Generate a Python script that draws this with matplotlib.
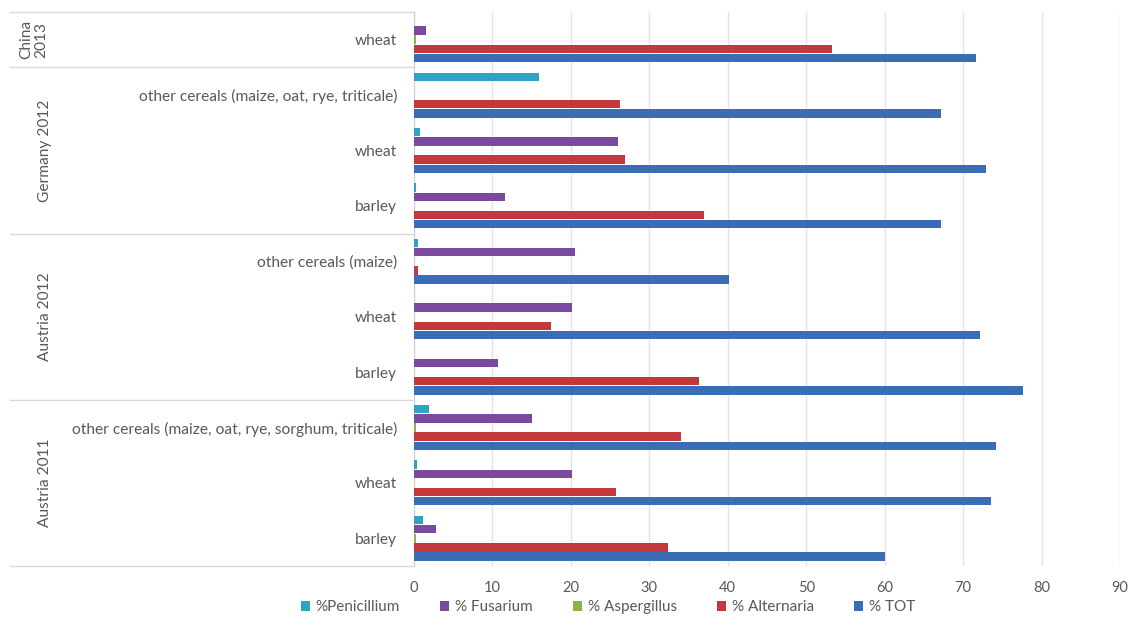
import matplotlib
matplotlib.use("Agg")
import matplotlib.pyplot as plt
import matplotlib.transforms as mtransforms
import numpy as np

plt.rcParams['font.family'] = ['Lato', 'DejaVu Sans']

# categories from bottom to top
categories = ["barley", "wheat", "other cereals (maize, oat, rye, sorghum, triticale)",
              "barley", "wheat", "other cereals (maize)",
              "barley", "wheat", "other cereals (maize, oat, rye, triticale)",
              "wheat"]
groups = ["Austria 2011", "Austria 2012", "Germany 2012", "China\n2013"]
group_bounds = [(-0.5, 2.5), (2.5, 5.5), (5.5, 8.5), (8.5, 9.5)]

penicillium = [1.1, 0.4, 1.9, 0.0, 0.0, 0.5, 0.3, 0.8, 15.9, 0.0]
fusarium    = [2.8, 20.1, 15.0, 10.7, 20.2, 20.5, 11.6, 26.0, 0.0, 1.5]
aspergillus = [0.2, 0.0, 0.2, 0.0, 0.0, 0.0, 0.0, 0.0, 0.0, 0.3]
alternaria  = [32.4, 25.8, 34.0, 36.3, 17.5, 0.5, 37.0, 26.9, 26.3, 53.3]
tot         = [60.0, 73.6, 74.2, 77.6, 72.1, 40.2, 67.2, 72.9, 67.2, 71.6]

series_names = ["%Penicillium", "% Fusarium", "% Aspergillus", "% Alternaria", "% TOT"]
series_vals = [penicillium, fusarium, aspergillus, alternaria, tot]
colors = ["#2FA3C2", "#7A4A9E", "#8DB441", "#C2383B", "#3A6DB5"]
offsets = [2, 1, 0, -1, -2]

fig = plt.figure(figsize=(11.34, 6.28), dpi=100)
ax = fig.add_axes([414/1134, 1-566/628, 706/1134, 554/628])

y = np.arange(len(categories))
h = 0.165
for name, vals, col, off in zip(series_names, series_vals, colors, offsets):
    ax.barh(y + off*h, vals, height=h*0.92, color=col, label=name, zorder=3)

ax.set_xlim(0, 90)
ax.set_ylim(-0.5, 9.5)
ax.set_xticks(np.arange(0, 91, 10))
ax.xaxis.grid(True, color="#E3E3E3", linewidth=1, zorder=0)
ax.set_yticks(y)
ax.set_yticklabels(categories, fontsize=11.2, color="#595959")
ax.tick_params(axis='y', length=0, pad=12)
ax.tick_params(axis='x', length=0, labelsize=10.5, labelcolor="#595959", pad=11)
for s in ["top", "right", "bottom"]:
    ax.spines[s].set_visible(False)
ax.spines["left"].set_color("#D0D0D0")

# group separators and labels
trans = mtransforms.blended_transform_factory(ax.transAxes, ax.transData)
x_left = (10 - 414) / 706
for b in [-0.5, 2.5, 5.5, 8.5, 9.5]:
    ax.plot([x_left, 0], [b, b], transform=trans, color="#D9D9D9", lw=1, clip_on=False)
for g, (lo, hi) in zip(groups, group_bounds):
    xg = (34 - 414) / 706 if "\n" in g else (45 - 414) / 706
    ax.text(xg, (lo + hi) / 2, g, transform=trans, rotation=90, ha="center", va="center",
            fontsize=11.2, color="#595959", linespacing=1.05)

leg = fig.legend(loc="lower center", bbox_to_anchor=(608/1134, 0.0), ncol=5, frameon=False,
                 fontsize=11, handlelength=0.6, handleheight=0.6, handletextpad=0.4,
                 columnspacing=2.6)
for t in leg.get_texts():
    t.set_color("#595959")

fig.savefig("out.png", dpi=100)
